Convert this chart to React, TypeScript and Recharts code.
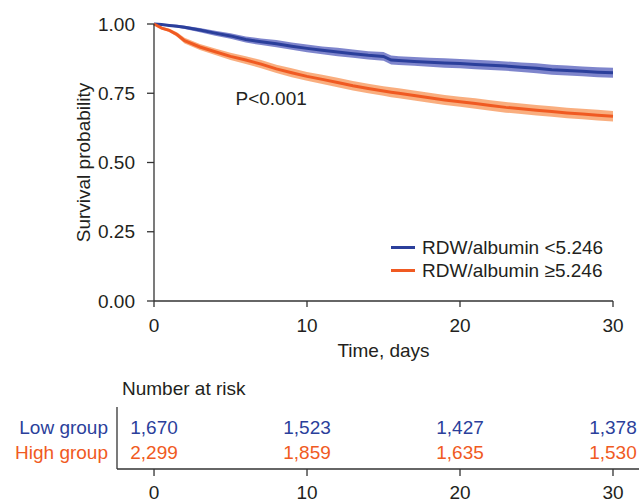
import React from 'react'
import {
  ComposedChart,
  Area,
  Line,
  Scatter,
  XAxis,
  YAxis,
  Legend,
  Label,
  ReferenceDot,
} from 'recharts'

// time points (days)
const days = [0, 0.5, 1, 1.5, 2, 3, 4, 5, 6, 7, 8, 9, 10, 11, 12, 13, 14, 15, 15.5, 16, 17, 18, 19, 20, 21, 22, 23, 24, 25, 26, 27, 28, 29, 30]

// RDW/albumin <5.246 (low group)
const lowSurv = [1.0, 0.998, 0.995, 0.992, 0.988, 0.978, 0.967, 0.957, 0.944, 0.936, 0.929, 0.92, 0.912, 0.905, 0.899, 0.893, 0.887, 0.883, 0.87, 0.868, 0.865, 0.862, 0.859, 0.857, 0.854, 0.851, 0.848, 0.844, 0.84, 0.835, 0.832, 0.829, 0.826, 0.824]
const lowUpper = [1.0, 1.0, 0.999, 0.997, 0.994, 0.986, 0.976, 0.967, 0.955, 0.948, 0.942, 0.933, 0.926, 0.919, 0.914, 0.908, 0.902, 0.899, 0.886, 0.884, 0.881, 0.878, 0.876, 0.874, 0.871, 0.868, 0.865, 0.861, 0.858, 0.853, 0.85, 0.847, 0.844, 0.842]
const lowLower = [1.0, 0.996, 0.991, 0.987, 0.982, 0.97, 0.958, 0.947, 0.933, 0.924, 0.916, 0.907, 0.898, 0.891, 0.884, 0.878, 0.872, 0.867, 0.854, 0.852, 0.849, 0.846, 0.842, 0.84, 0.837, 0.834, 0.831, 0.827, 0.822, 0.817, 0.814, 0.811, 0.808, 0.806]

// RDW/albumin >=5.246 (high group)
const highSurv = [1.0, 0.985, 0.977, 0.962, 0.94, 0.917, 0.9, 0.883, 0.87, 0.855, 0.838, 0.824, 0.811, 0.8, 0.789, 0.777, 0.767, 0.758, 0.754, 0.75, 0.742, 0.734, 0.726, 0.719, 0.713, 0.706, 0.699, 0.694, 0.689, 0.684, 0.679, 0.675, 0.671, 0.667]
const highUpper = [1.0, 0.99, 0.983, 0.97, 0.95, 0.928, 0.912, 0.896, 0.884, 0.87, 0.853, 0.84, 0.827, 0.817, 0.806, 0.794, 0.784, 0.775, 0.772, 0.768, 0.76, 0.752, 0.744, 0.737, 0.732, 0.725, 0.718, 0.713, 0.708, 0.703, 0.698, 0.694, 0.69, 0.686]
const highLower = [1.0, 0.98, 0.971, 0.954, 0.93, 0.906, 0.888, 0.87, 0.856, 0.84, 0.823, 0.808, 0.795, 0.783, 0.772, 0.76, 0.75, 0.741, 0.736, 0.732, 0.724, 0.716, 0.708, 0.701, 0.694, 0.687, 0.68, 0.675, 0.67, 0.665, 0.66, 0.656, 0.652, 0.648]

const xTicks = [0, 10, 20, 30]
const yTicks = [0, 0.25, 0.5, 0.75, 1]

// number at risk table
const riskTimes = [0, 10, 20, 30]
const groups = ['Low group', 'High group']
const lowAtRisk = [1670, 1523, 1427, 1378]
const highAtRisk = [2299, 1859, 1635, 1530]

const BLUE = '#2b3f9b'
const BLUE_BAND = '#7078c6'
const ORANGE = '#f05a22'
const ORANGE_BAND = '#f8a571'
const AXIS = '#333'
const TEXT = '#231f20'
const FONT = '"Liberation Sans", Arial, Helvetica, sans-serif'
const FS = 19

const rows = days.map((t, i) => ({
  t,
  low: lowSurv[i],
  lowBand: [lowLower[i], lowUpper[i]],
  high: highSurv[i],
  highBand: [highLower[i], highUpper[i]],
}))

const riskLow = riskTimes.map((t, i) => ({ t, group: groups[0], n: lowAtRisk[i] }))
const riskHigh = riskTimes.map((t, i) => ({ t, group: groups[1], n: highAtRisk[i] }))

const groupColor: Record<string, string> = { 'Low group': BLUE, 'High group': ORANGE }

const YLabel = ({ viewBox }: any) => {
  const cx = viewBox.x + 83
  const cy = viewBox.y + viewBox.height / 2
  return (
    <text
      x={cx}
      y={cy}
      transform={`rotate(-90 ${cx} ${cy})`}
      textAnchor="middle"
      dominantBaseline="central"
      fontSize={FS}
      fill={TEXT}
    >
      Survival probability
    </text>
  )
}

// only the two survival lines go in the legend
const LegendBox = ({ payload }: any) => (
  <div style={{ fontFamily: FONT, fontSize: FS, color: TEXT, textAlign: 'left' }}>
    {(payload || [])
      .filter((p: any) => p.type !== 'none' && !String(p.dataKey).includes('Band'))
      .map((p: any) => (
        <div key={p.value} style={{ display: 'flex', alignItems: 'center', height: 23 }}>
          <span style={{ width: 24, height: 3, background: p.color, marginRight: 7 }} />
          <span>{p.value}</span>
        </div>
      ))}
  </div>
)

const GroupTick = ({ x, y, payload }: any) => (
  <text x={x} y={y} textAnchor="end" dominantBaseline="central" fontSize={FS} fill={groupColor[payload.value]}>
    {payload.value}
  </text>
)

const RiskNumber = (color: string) => (props: any) => (
  <text
    x={props.cx}
    y={props.cy}
    textAnchor="middle"
    dominantBaseline="central"
    fontSize={FS}
    fill={color}
  >
    {props.payload.n.toLocaleString('en-US')}
  </text>
)

export default function App() {
  return (
    <div
      style={{
        position: 'absolute',
        left: 0,
        top: 0,
        width: 639,
        height: 501,
        overflow: 'hidden',
        background: '#fff',
        fontFamily: FONT,
      }}
    >
      <ComposedChart
        width={639}
        height={365}
        data={rows}
        margin={{ top: 24, right: 26, bottom: 0, left: 0 }}
        style={{ fontFamily: FONT }}
      >
        <XAxis
          dataKey="t"
          type="number"
          domain={[0, 30]}
          ticks={xTicks}
          height={64}
          stroke={AXIS}
          strokeWidth={1.3}
          tickSize={6}
          tickMargin={12}
          tick={{ fontSize: FS, fill: TEXT }}
        >
          <Label value="Time, days" position="insideBottom" offset={8} fontSize={FS} fill={TEXT} />
        </XAxis>
        <YAxis
          type="number"
          domain={[0, 1]}
          ticks={yTicks}
          width={154}
          stroke={AXIS}
          strokeWidth={1.3}
          tickSize={7}
          tickMargin={12}
          tickFormatter={(v: number) => v.toFixed(2)}
          tick={{ fontSize: FS, fill: TEXT }}
        >
          <Label content={<YLabel />} />
        </YAxis>
        <Area
          dataKey="lowBand"
          type="linear"
          stroke="none"
          fill={BLUE_BAND}
          fillOpacity={0.9}
          legendType="none"
          isAnimationActive={false}
        />
        <Area
          dataKey="highBand"
          type="linear"
          stroke="none"
          fill={ORANGE_BAND}
          fillOpacity={0.9}
          legendType="none"
          isAnimationActive={false}
        />
        <Line
          dataKey="low"
          name="RDW/albumin <5.246"
          type="linear"
          stroke={BLUE}
          strokeWidth={3}
          dot={false}
          isAnimationActive={false}
        />
        <Line
          dataKey="high"
          name="RDW/albumin ≥5.246"
          type="linear"
          stroke={ORANGE}
          strokeWidth={3}
          dot={false}
          isAnimationActive={false}
        />
        <ReferenceDot
          x={5}
          y={0.733}
          r={0}
          fill="none"
          stroke="none"
          label={{ value: 'P<0.001', position: 'right', offset: 5, fontSize: FS, fill: TEXT }}
        />
        <Legend
          layout="horizontal"
          verticalAlign="middle"
          align="center"
          content={<LegendBox />}
          wrapperStyle={{ position: 'absolute', left: 391, top: 236, width: 245 }}
        />
      </ComposedChart>

      <div
        style={{
          position: 'absolute',
          left: 122,
          top: 378,
          fontSize: FS,
          lineHeight: '22px',
          color: TEXT,
        }}
      >
        Number at risk
      </div>

      <div style={{ position: 'absolute', left: 0, top: 365 }}>
        <ComposedChart
          width={639}
          height={136}
          margin={{ top: 42, right: 0, bottom: 0, left: 0 }}
          style={{ fontFamily: FONT }}
        >
          <XAxis
            dataKey="t"
            type="number"
            domain={[-2.42, 31.7]}
            ticks={riskTimes}
            allowDataOverflow
            height={32}
            stroke={AXIS}
            strokeWidth={1.3}
            tickSize={7}
            tickMargin={10}
            tick={{ fontSize: FS, fill: TEXT }}
          />
          <YAxis
            dataKey="group"
            type="category"
            allowDuplicatedCategory={false}
            reversed
            padding={{ top: 20, bottom: 17 }}
            width={117}
            stroke={AXIS}
            strokeWidth={1.3}
            tickLine={false}
            tickSize={0}
            tickMargin={9}
            tick={<GroupTick />}
          />
          <Scatter data={riskLow} shape={RiskNumber(BLUE)} isAnimationActive={false} />
          <Scatter data={riskHigh} shape={RiskNumber(ORANGE)} isAnimationActive={false} />
        </ComposedChart>
      </div>
    </div>
  )
}
